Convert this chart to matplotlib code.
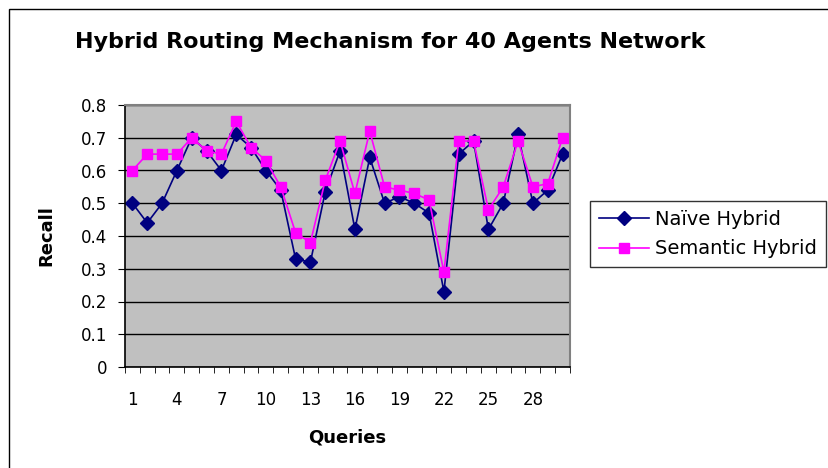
import numpy as np
import matplotlib.pyplot as plt
from matplotlib.patches import Rectangle

plt.rcParams['font.family'] = ['DejaVu Sans']

queries = np.arange(1, 31)
naive = [0.50, 0.44, 0.50, 0.60, 0.70, 0.66, 0.60, 0.71, 0.67, 0.60,
         0.54, 0.33, 0.32, 0.535, 0.66, 0.42, 0.64, 0.50, 0.52, 0.50,
         0.47, 0.23, 0.65, 0.69, 0.42, 0.50, 0.71, 0.50, 0.54, 0.65]
semantic = [0.60, 0.65, 0.65, 0.65, 0.70, 0.66, 0.65, 0.75, 0.67, 0.63,
            0.55, 0.41, 0.38, 0.57, 0.69, 0.53, 0.72, 0.55, 0.54, 0.53,
            0.51, 0.29, 0.69, 0.69, 0.48, 0.55, 0.69, 0.55, 0.56, 0.70]
tick_labels = ['1', '4', '7', '10', '13', '16', '19', '22', '25', '28']

W, H = 829, 468
fig = plt.figure(figsize=(W / 100, H / 100), dpi=100)
# chart border (runs off the right and bottom edge as in the original)
fig.patches.append(Rectangle((9 / W, -0.1), 1.2, 1.1 - 9 / H, transform=fig.transFigure,
                             fill=False, edgecolor='black', linewidth=1))

left, right, top, bottom = 125, 570, 105, 367
ax = fig.add_axes([left / W, 1 - bottom / H, (right - left) / W, (bottom - top) / H])
ax.set_facecolor('#C0C0C0')

ax.plot(queries, naive, color='#000080', marker='D', markersize=7, linewidth=1.2,
        label='Naïve Hybrid')
ax.plot(queries, semantic, color='#FF00FF', marker='s', markersize=7, linewidth=1.2,
        label='Semantic Hybrid')

ax.set_xlim(0.5, 30.5)
ax.set_ylim(0, 0.8)
ax.set_yticks(np.arange(0, 0.81, 0.1))
ax.set_yticklabels(['0'] + ['%.1f' % v for v in np.arange(0.1, 0.81, 0.1)], fontsize=12)
ax.yaxis.grid(True, color='black', linewidth=1)
ax.set_axisbelow(True)

ax.set_xticks([1, 4, 7, 10, 13, 16, 19, 22, 25, 28])
ax.set_xticklabels(tick_labels, fontsize=12)
ax.set_xticks(np.arange(0.5, 31, 1), minor=True)
ax.tick_params(axis='x', which='major', length=0, pad=17)
ax.tick_params(axis='x', which='minor', length=4, direction='out', color='black')
ax.tick_params(axis='y', length=5, direction='out', pad=8)

for s in ['top', 'right']:
    ax.spines[s].set_color('#808080')
    ax.spines[s].set_linewidth(1.5)
for s in ['left', 'bottom']:
    ax.spines[s].set_color('black')
    ax.spines[s].set_linewidth(1.2)

ax.set_xlabel('Queries', fontsize=13, fontweight='bold', labelpad=14)
ax.set_ylabel('Recall', fontsize=13, fontweight='bold', labelpad=18)

fig.text(75 / W, 1 - 42 / H, 'Hybrid Routing Mechanism for 40 Agents Network',
         fontsize=16, fontweight='bold', va='center', ha='left')

leg = ax.legend(loc='upper left', bbox_to_anchor=(590 / W, 1 - 201 / H),
                bbox_transform=fig.transFigure, fontsize=14, frameon=True,
                fancybox=False, edgecolor='black', handlelength=2.6,
                borderaxespad=0, borderpad=0.45, labelspacing=0.55, handletextpad=0.3)
leg.get_frame().set_linewidth(1)

fig.savefig('out.png', dpi=100)
